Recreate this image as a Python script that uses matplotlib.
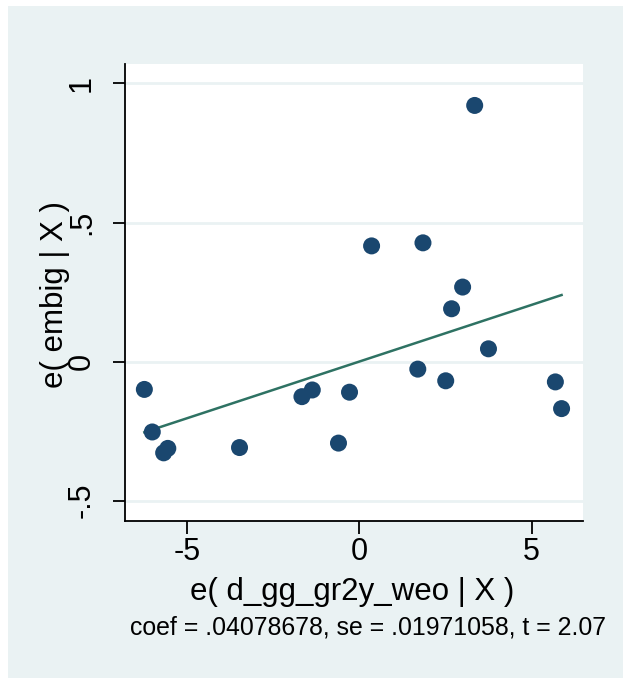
import matplotlib
matplotlib.use("Agg")
import matplotlib.pyplot as plt
import numpy as np
from matplotlib.patches import Rectangle

plt.rcParams['font.family'] = ['Liberation Sans', 'DejaVu Sans']

# Residual data
x_res = [3.35, 0.36, 1.85, 3.00, 2.68, 3.75, 1.70, 2.51, 5.69, 5.87,
         -6.23, -6.00, -5.67, -5.55, -3.47, -1.66, -1.36, -0.60, -0.28]
y_res = [0.921, 0.416, 0.427, 0.268, 0.190, 0.046, -0.027, -0.069, -0.073, -0.169,
         -0.100, -0.253, -0.328, -0.312, -0.309, -0.126, -0.102, -0.293, -0.110]
coef = 0.04078678
se = 0.01971058
tstat = 2.07
x_ticks = [-5, 0, 5]
x_ticklabels = ["-5", "0", "5"]
y_ticks = [-0.5, 0, 0.5, 1]
y_ticklabels = ["-.5", "0", ".5", "1"]

W, H = 623, 678
fig = plt.figure(figsize=(W / 100, H / 100), dpi=100, facecolor='white')
bg = '#EAF2F3'
fig.patches.append(Rectangle((8 / W, 0), 1 - 8 / W, 1 - 5.5 / H,
                             transform=fig.transFigure, facecolor=bg,
                             edgecolor='none', zorder=-10))

ax = fig.add_axes([124.7 / W, 1 - 520.7 / H, (583.3 - 124.7) / W, (520.7 - 64) / H])
ax.set_facecolor('white')
ax.set_xlim(-6.80, 6.50)
ax.set_ylim(-0.572, 1.070)

for yv in y_ticks:
    ax.axhline(yv, color=bg, lw=2.0, zorder=0)

xs = np.array(x_res)
xl = np.array([xs.min(), xs.max()])
ax.plot(xl, coef * xl, color='#2E7263', lw=1.8, zorder=2)
ax.scatter(x_res, y_res, s=150, color='#1A476F', edgecolors='none', zorder=3)

for s in ['top', 'right']:
    ax.spines[s].set_visible(False)
for s in ['left', 'bottom']:
    ax.spines[s].set_linewidth(1.3)
    ax.spines[s].set_color('black')

ax.set_xticks(x_ticks)
ax.set_xticklabels(x_ticklabels, fontsize=22)
ax.set_yticks(y_ticks)
ax.set_yticklabels(y_ticklabels, fontsize=22, rotation=90, va='center')
ax.tick_params(axis='x', length=9, width=1.3, color='black', pad=3)
ax.tick_params(axis='y', length=9, width=1.3, color='black', pad=11)

fig.text(352.5 / W, 1 - 600 / H, "e( d_gg_gr2y_weo | X )", fontsize=22.5,
         ha='center', va='baseline')
fig.text(55 / W, 1 - 294 / H, "e( embig | X )", fontsize=22.5,
         ha='center', va='center', rotation=90)
fig.text(368.5 / W, 1 - 635 / H,
         f"coef = .0{str(coef)[3:]}, se = .0{str(se)[3:]}, t = {tstat:.2f}",
         fontsize=17.9, ha='center', va='baseline')

fig.savefig("out.png", dpi=100, facecolor='white')
